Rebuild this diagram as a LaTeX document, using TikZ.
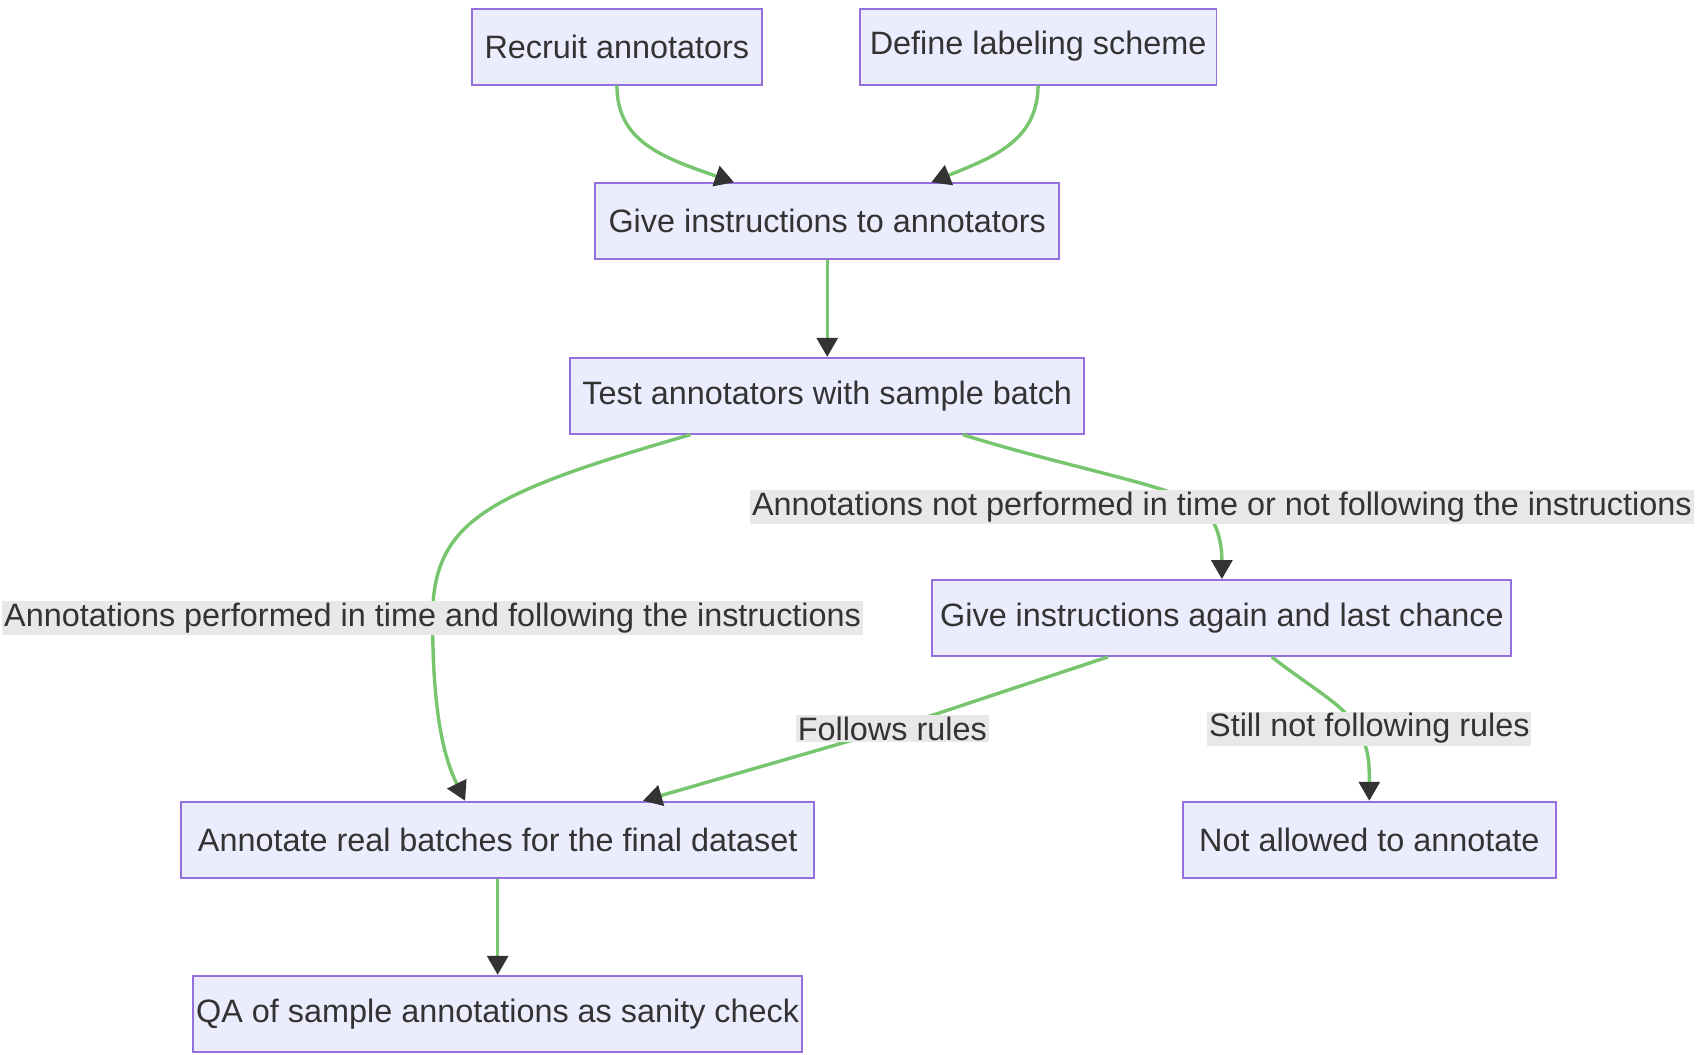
\documentclass[tikz,border=0pt]{standalone}
\usepackage{fontspec}
\setmainfont{Liberation Sans}
\usetikzlibrary{arrows.meta}
\definecolor{nfill}{HTML}{ECECFF}
\definecolor{nline}{HTML}{9370DB}
\definecolor{edge}{HTML}{77C66E}
\definecolor{lbg}{HTML}{E8E8E8}
\definecolor{txt}{HTML}{333333}
\begin{document}
\begin{tikzpicture}[x=0.02cm,y=-0.02cm,
  box/.style={draw=nline,fill=nfill,line width=1pt,minimum height=1.4cm,inner sep=0pt,text=txt,font=\fontsize{17}{20}\selectfont},
  lab/.style={fill=lbg,text=txt,inner sep=1pt,font=\fontsize{17}{20}\selectfont},
  e/.style={draw=edge,line width=1.8pt,-{Triangle[length=10pt,width=11pt,color=txt]}}]
\useasboundingbox (0,0) rectangle (1568,973);
\node[box,minimum width=268*0.02cm] (R) at (569,43) {Recruit annotators};
\node[box,minimum width=329*0.02cm] (D) at (957.5,43) {Define labeling scheme};
\node[box,minimum width=428*0.02cm] (G) at (763,204) {Give instructions to annotators};
\node[box,minimum width=474*0.02cm] (T) at (763,365) {Test annotators with sample batch};
\node[box,minimum width=534*0.02cm] (A2) at (1127,570) {Give instructions again and last chance};
\node[box,minimum width=584*0.02cm] (AR) at (459,774.5) {Annotate real batches for the final dataset};
\node[box,minimum width=344*0.02cm] (N) at (1263,774.5) {Not allowed to annotate};
\node[box,minimum width=562*0.02cm] (Q) at (459,935) {QA of sample annotations as sanity check};
\coordinate (l1) at (399,570);
\coordinate (l2) at (1110,468);
\coordinate (l3) at (823,672);
\coordinate (l4) at (1252,672);
\draw[e] (R.south) .. controls (569,130) and (610,145) .. ([xshift=-86*0.02cm]G.north);
\draw[e] (D.south) .. controls (957,130) and (916,145) .. ([xshift=96*0.02cm]G.north);
\draw[e] (G) -- (T);
\draw[e] ([xshift=-126*0.02cm]T.south) .. controls (450,455) and (399,480) .. (l1) .. controls (399,660) and (410,700) .. ([xshift=-30*0.02cm]AR.north);
\draw[e] ([xshift=125*0.02cm]T.south) .. controls (980,430) and (1090,450) .. (l2) .. controls (1125,485) and (1127,505) .. (A2.north);
\draw[e] ([xshift=-105*0.02cm]A2.south) -- (l3) -- ([xshift=134*0.02cm]AR.north);
\draw[e] ([xshift=46*0.02cm]A2.south) .. controls (1210,635) and (1240,650) .. (l4) .. controls (1263,690) and (1263,705) .. (N.north);
\draw[e] (AR) -- (Q);
\node[lab] at (l1) {Annotations performed in time and following the instructions};
\node[lab] at (1127,468) {Annotations not performed in time or not following the instructions};
\node[lab] at (l3) {Follows rules};
\node[lab] at (1263,672) {Still not following rules};
\end{tikzpicture}
\end{document}
